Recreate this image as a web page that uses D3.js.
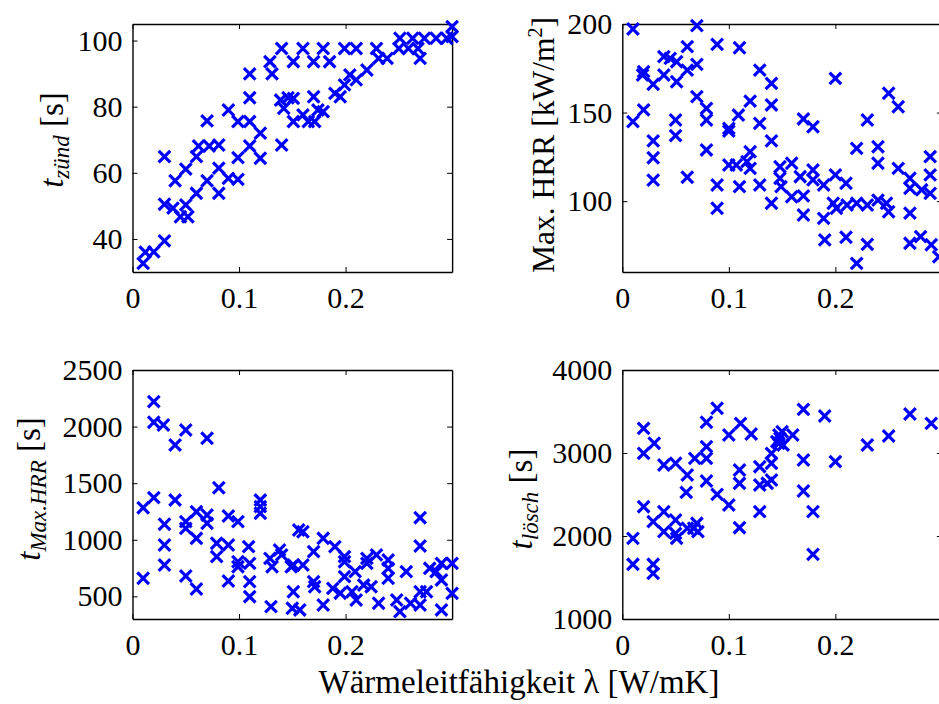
<!DOCTYPE html>
<html>
<head>
<meta charset="utf-8">
<script src="https://cdn.jsdelivr.net/npm/d3@7"></script>
<style>
  html, body { margin: 0; padding: 0; background: #fff; }
  svg { display: block; }
</style>
</head>
<body>
<svg id="chart" width="939" height="704"></svg>
<script>
// ---------- DATA ----------
const xTicks = [0, 0.1, 0.2];

// Panel 1: ignition time t_zünd [s]
const zuendLambda = [0.010,0.012,0.020,0.030,0.030,0.030,0.038,0.045,0.052,0.050,0.060,0.040,0.050,0.060,0.062,0.072,0.081,0.070,0.070,0.081,0.081,0.090,0.099,0.099,0.110,0.120,0.120,0.110,0.099,0.090,0.110,0.110,0.129,0.131,0.140,0.140,0.139,0.146,0.151,0.151,0.142,0.160,0.170,0.179,0.185,0.199,0.210,0.204,0.199,0.210,0.195,0.190,0.220,0.229,0.231,0.239,0.251,0.250,0.259,0.263,0.268,0.270,0.274,0.285,0.295,0.300,0.300,0.151,0.160,0.170,0.165,0.171,0.174,0.179];
const zuendTime   = [32.6,36.0,36.1,39.4,64.9,50.5,49.3,46.7,46.7,50.3,53.8,57.6,61.1,64.9,68.1,68.1,68.4,75.7,57.6,61.4,53.8,58.3,58.0,64.6,68.1,64.4,72.0,75.5,75.5,79.0,82.7,89.9,93.6,89.9,97.6,68.4,82.0,82.7,75.5,93.6,79.5,97.6,93.6,97.6,93.6,97.6,97.6,89.6,86.6,88.1,83.0,84.0,91.1,97.6,94.6,94.6,100.7,97.6,97.6,100.7,97.6,94.6,100.7,100.7,100.7,104.2,101.2,82.5,77.5,83.0,75.5,75.5,79.0,78.5];
const zuendTicks  = [40, 60, 80, 100];

// Panel 2: maximum heat release rate [kW/m²]
const hrrLambda = [0.010,0.070,0.061,0.089,0.110,0.039,0.045,0.051,0.070,0.020,0.019,0.029,0.039,0.051,0.061,0.129,0.140,0.070,0.079,0.079,0.020,0.010,0.050,0.050,0.029,0.029,0.029,0.061,0.079,0.100,0.100,0.109,0.120,0.140,0.129,0.140,0.100,0.107,0.120,0.117,0.120,0.089,0.089,0.110,0.129,0.140,0.200,0.250,0.259,0.170,0.179,0.230,0.220,0.240,0.240,0.259,0.289,0.289,0.289,0.270,0.270,0.281,0.148,0.159,0.148,0.149,0.159,0.170,0.170,0.167,0.179,0.179,0.189,0.200,0.210,0.189,0.198,0.201,0.211,0.220,0.230,0.240,0.248,0.250,0.270,0.190,0.210,0.230,0.220,0.270,0.280,0.290,0.297];
const hrrValue  = [197.2,199.1,187.2,188.5,186.6,181.6,180.6,178.7,177.2,173.1,171.2,166.0,171.2,167.4,174.0,174.0,166.5,159.0,152.4,145.8,151.5,144.9,145.8,137.0,134.0,124.5,111.9,113.5,128.9,141.1,139.5,148.6,156.5,154.3,143.9,134.0,120.4,120.4,127.9,122.3,118.5,109.1,96.0,108.2,109.1,98.8,169.3,160.9,153.3,146.4,142.0,145.8,129.8,130.7,121.4,118.5,125.1,114.8,104.4,112.9,107.3,106.4,119.4,121.4,112.9,108.2,102.5,103.0,92.2,113.8,117.6,112.0,109.1,114.8,110.1,90.3,98.8,96.0,97.8,98.8,97.8,100.6,98.8,94.0,93.2,78.1,79.6,75.6,64.9,76.2,80.0,75.4,68.6];
const hrrTicks  = [100, 150, 200];

// Panel 3: time to maximum HRR [s]
const tmaxLambda = [0.020,0.020,0.029,0.050,0.040,0.070,0.081,0.010,0.020,0.040,0.030,0.030,0.030,0.010,0.050,0.050,0.060,0.060,0.070,0.070,0.050,0.060,0.090,0.099,0.079,0.090,0.079,0.109,0.099,0.099,0.110,0.090,0.110,0.110,0.120,0.120,0.120,0.129,0.131,0.130,0.138,0.140,0.149,0.151,0.150,0.156,0.151,0.160,0.160,0.157,0.170,0.170,0.171,0.179,0.179,0.190,0.188,0.195,0.199,0.199,0.199,0.209,0.210,0.206,0.220,0.220,0.217,0.224,0.229,0.231,0.240,0.240,0.240,0.248,0.251,0.257,0.261,0.270,0.270,0.270,0.270,0.279,0.276,0.290,0.290,0.290,0.285,0.300,0.300];
const tmaxTime   = [2220,2038,2014,1970,1837,1897,1460,1283,1372,1351,1137,954,777,660,1160,1101,1248,1013,1219,1146,680,565,1210,1160,969,954,851,939,806,762,792,636,630,497,1351,1293,1234,836,762,409,910,866,762,541,395,1086,777,1071,777,380,895,630,585,1013,424,939,571,528,851,806,674,718,468,541,836,792,600,585,866,439,821,748,660,468,365,718,439,1195,945,541,424,748,541,792,645,380,718,792,527];
const tmaxTicks  = [500, 1000, 1500, 2000, 2500];

// Panel 4: extinction time t_lösch [s]
const loeschLambda = [0.010,0.010,0.029,0.029,0.020,0.020,0.030,0.020,0.029,0.039,0.039,0.050,0.050,0.051,0.061,0.067,0.070,0.071,0.039,0.050,0.061,0.060,0.068,0.079,0.079,0.079,0.089,0.079,0.089,0.100,0.100,0.111,0.121,0.110,0.110,0.110,0.129,0.129,0.129,0.140,0.140,0.140,0.136,0.147,0.147,0.170,0.190,0.150,0.148,0.151,0.160,0.145,0.170,0.170,0.179,0.179,0.200,0.230,0.250,0.270,0.290];
const loeschTime   = [1972,1659,1659,1550,3297,2996,3117,2353,2173,2293,2052,2193,2032,1972,2093,2093,2153,2052,2855,2876,2735,2526,2936,3076,2936,3370,3539,2663,2502,2373,3217,3357,3229,2795,2635,2100,2835,2614,2293,2996,2876,2675,2635,3217,3117,3526,3446,3257,3177,3096,3217,3137,2916,2542,2293,1779,2896,3096,3205,3470,3357];
const loeschTicks  = [1000, 2000, 3000, 4000];

// ---------- LAYOUT ----------
const FONT = 30;
const LABEL_FONT = 33;
const SUB_FONT = 23;
const FAMILY = "Liberation Serif";
const BLUE = "#0000ff";
const svg = d3.select("#chart");

const panels = [
  { xs: zuendLambda,  ys: zuendTime,  yDomain: [30, 105],    yTicks: zuendTicks,  left: 132.5, top: 24,  bottom: 272, label: "zuend",  labelX: 63,  labelY: 140 },
  { xs: hrrLambda,    ys: hrrValue,   yDomain: [60, 200],    yTicks: hrrTicks,    left: 622.3, top: 24,  bottom: 272, label: "hrr",    labelX: 554, labelY: 145 },
  { xs: tmaxLambda,   ys: tmaxTime,   yDomain: [300, 2500],  yTicks: tmaxTicks,   left: 132.5, top: 370, bottom: 619, label: "tmax",   labelX: 40,  labelY: 489 },
  { xs: loeschLambda, ys: loeschTime, yDomain: [1000, 4000], yTicks: loeschTicks, left: 622.3, top: 370, bottom: 619, label: "loesch", labelX: 532, labelY: 499 }
];
const panelWidth = 319.6;

panels.forEach(p => {
  const x = d3.scaleLinear().domain([0, 0.3]).range([p.left, p.left + panelWidth]);
  const y = d3.scaleLinear().domain(p.yDomain).range([p.bottom, p.top]);
  const g = svg.append("g");

  const fmtX = d => d === 0 ? "0" : d3.format(".1f")(d);

  g.append("g").attr("transform", `translate(0,${p.bottom})`)
    .call(d3.axisBottom(x).tickValues(xTicks).tickSizeInner(-5).tickSizeOuter(0).tickPadding(15).tickFormat(fmtX));
  g.append("g").attr("transform", `translate(0,${p.top})`)
    .call(d3.axisTop(x).tickValues(xTicks).tickSizeInner(-5).tickSizeOuter(0).tickFormat(""));
  g.append("g").attr("transform", `translate(${p.left},0)`)
    .call(d3.axisLeft(y).tickValues(p.yTicks).tickSizeInner(-5).tickSizeOuter(0).tickPadding(10).tickFormat(d3.format("d")));
  g.append("g").attr("transform", `translate(${p.left + panelWidth},0)`)
    .call(d3.axisRight(y).tickValues(p.yTicks).tickSizeInner(-5).tickSizeOuter(0).tickFormat(""));

  g.selectAll("g").attr("font-family", FAMILY).attr("font-size", FONT);
  g.selectAll(".domain").attr("stroke", "#000").attr("stroke-width", 1.4);
  g.selectAll(".tick line").attr("stroke", "#000").attr("stroke-width", 1);
  g.selectAll(".tick text").style("font-size", FONT + "px").style("font-family", FAMILY).attr("fill", "#000");

  const s = 5.8;
  const pts = p.xs.map((v, i) => [x(v), y(p.ys[i])]);
  g.append("g").selectAll("path").data(pts).join("path")
    .attr("d", d => `M${d[0]-s},${d[1]-s}L${d[0]+s},${d[1]+s}M${d[0]-s},${d[1]+s}L${d[0]+s},${d[1]-s}`)
    .attr("stroke", BLUE).attr("stroke-width", 3.2).attr("fill", "none");

  const t = svg.append("text")
    .attr("transform", `translate(${p.labelX},${p.labelY}) rotate(-90)`)
    .attr("text-anchor", "middle")
    .style("font-family", FAMILY)
    .style("font-size", LABEL_FONT + "px")
    .attr("fill", "#000");
  const sub = (name) => {
    t.append("tspan").style("font-style", "italic").text("t");
    t.append("tspan").style("font-style", "italic").style("font-size", SUB_FONT + "px").attr("dy", 6).text(name);
    t.append("tspan").attr("dy", -6).text(" [s]");
  };
  if (p.label === "zuend") sub("zünd");
  else if (p.label === "tmax") sub("Max.HRR");
  else if (p.label === "loesch") sub("lösch");
  else {
    t.style("font-size", "31.5px");
    t.append("tspan").text("Max. HRR [kW/m");
    t.append("tspan").style("font-size", "20px").attr("dy", -12).text("2");
    t.append("tspan").attr("dy", 12).text("]");
  }
});

svg.append("text")
  .attr("x", 519).attr("y", 693)
  .attr("text-anchor", "middle")
  .style("font-family", FAMILY)
  .style("font-size", LABEL_FONT + "px")
  .attr("fill", "#000")
  .text("Wärmeleitfähigkeit λ [W/mK]");
</script>
</body>
</html>
